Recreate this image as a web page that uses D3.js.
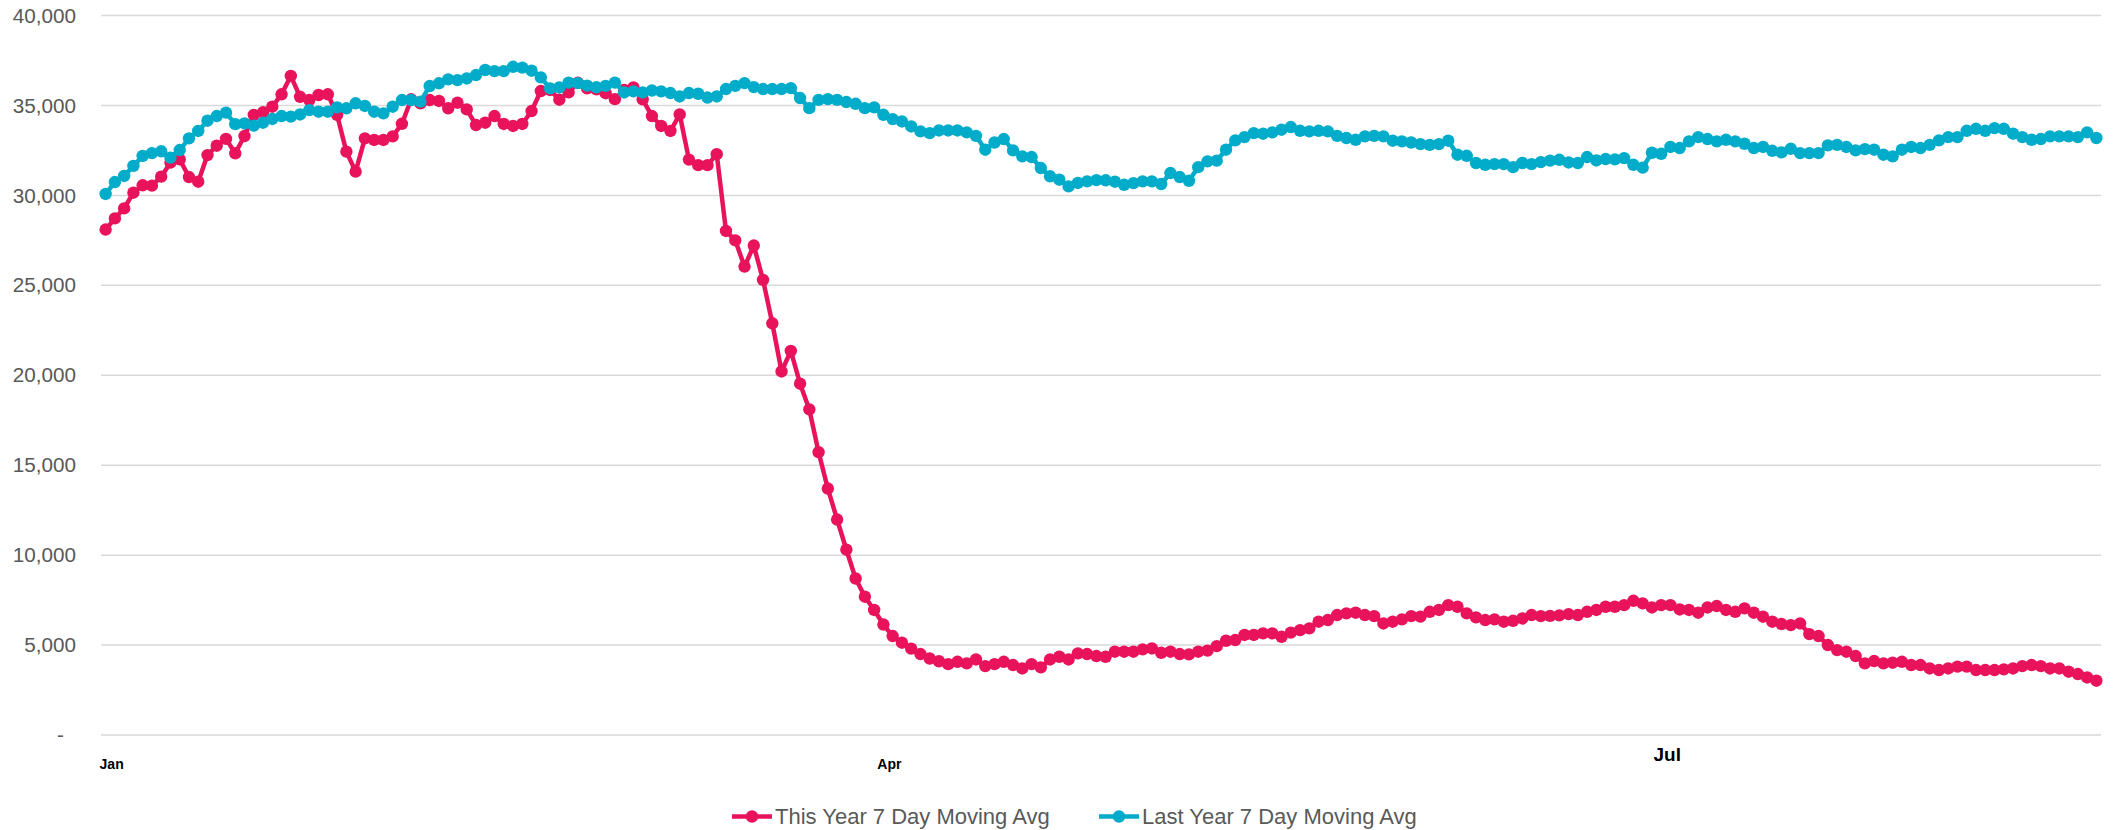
<!DOCTYPE html>
<html><head><meta charset="utf-8">
<script src="https://cdn.jsdelivr.net/npm/d3@7"></script>
<style>
html,body{margin:0;padding:0;background:#fff;}
svg{display:block;font-family:"Liberation Sans",Arial,sans-serif;}
</style></head>
<body>
<svg id="chart" width="2114" height="830"></svg>
<script>
// ---- data ----
const seriesNames = ["This Year 7 Day Moving Avg", "Last Year 7 Day Moving Avg"];
const seriesColors = ["#E8135B", "#00ACCA"];

const thisYear = [
28100,28720,29280,30150,30560,30540,31040,31820,32000,31020,
30760,32240,32760,33140,32340,33300,34470,34620,34930,35620,
36640,35480,35300,35580,35620,34470,32430,31320,33170,33080,
33080,33280,33980,35340,35120,35300,35250,34840,35150,34780,
33910,34040,34410,33970,33860,33970,34690,35800,35860,35320,
35730,36260,35950,35900,35680,35350,35860,36000,35340,34410,
33860,33580,34500,31990,31680,31680,32290,28020,27500,26040,
27210,25300,22890,20210,21350,19530,18100,15720,13700,11980,
10300,8700,7690,6950,6140,5500,5130,4800,4500,4250,
4100,3940,4070,3980,4200,3830,3940,4070,3890,3700,
3940,3760,4200,4350,4200,4540,4500,4390,4350,4630,
4630,4630,4760,4810,4570,4630,4500,4480,4630,4690,
4940,5240,5280,5560,5560,5650,5650,5460,5690,5830,
5930,6300,6390,6670,6760,6800,6670,6610,6200,6300,
6430,6610,6580,6850,6950,7220,7130,6760,6540,6390,
6430,6300,6350,6480,6670,6610,6620,6650,6720,6670,
6850,6950,7130,7130,7220,7460,7320,7090,7220,7220,
6980,6950,6800,7090,7170,6950,6850,7040,6800,6575,
6300,6170,6110,6200,5610,5500,5000,4720,4630,4390,
3980,4110,3980,4020,4070,3890,3890,3700,3610,3700,
3800,3800,3610,3610,3610,3650,3700,3830,3890,3830,
3700,3700,3520,3390,3200,3020
];

const lastYear = [
30080,30740,31080,31640,32190,32350,32450,32100,32520,33170,
33580,34150,34410,34600,33960,34000,33880,34040,34250,34410,
34380,34500,34740,34650,34650,34890,34840,35120,34970,34650,
34560,34930,35300,35300,35210,36080,36230,36450,36410,36500,
36690,36970,36910,36910,37150,37100,36930,36560,35950,36000,
36270,36240,36100,36010,36090,36270,35720,35780,35720,35830,
35780,35690,35500,35690,35650,35440,35500,35910,36090,36240,
36020,35910,35910,35910,35960,35410,34850,35310,35350,35310,
35190,35090,34850,34890,34480,34240,34110,33830,33560,33460,
33610,33610,33610,33500,33310,32540,32940,33130,32500,32170,
32130,31520,31060,30870,30500,30690,30780,30850,30840,30760,
30590,30680,30780,30780,30630,31240,31020,30810,31570,31890,
31930,32540,33060,33240,33460,33430,33500,33650,33800,33590,
33560,33590,33560,33310,33190,33090,33280,33310,33280,33040,
33000,32940,32850,32810,32850,33040,32260,32200,31800,31700,
31740,31740,31570,31800,31740,31850,31930,31980,31830,31800,
32130,31940,32020,32000,32070,31700,31540,32370,32310,32690,
32630,33000,33240,33130,33000,33090,33000,32870,32630,32690,
32480,32390,32590,32350,32350,32350,32780,32810,32690,32500,
32570,32540,32260,32170,32540,32690,32630,32810,33060,33240,
33240,33590,33700,33590,33740,33700,33430,33240,33090,33130,
33280,33280,33280,33240,33500,33190
];

const xTickLabels = ["Jan", "Apr", "Jul"];
const xTickIndex = [0, 84, 168];
const yTicks = [0, 5000, 10000, 15000, 20000, 25000, 30000, 35000, 40000];

// ---- layout ----
const svg = d3.select("#chart");
const plotLeft = 101, plotRight = 2101, plotTop = 15.5, plotBottom = 735;
const n = thisYear.length;

const x = d3.scaleLinear().domain([-0.5, n - 0.5]).range([plotLeft, plotRight]);
const y = d3.scaleLinear().domain([0, 40000]).range([plotBottom, plotTop]);

// gridlines
svg.append("g").selectAll("line").data(yTicks).join("line")
  .attr("x1", plotLeft).attr("x2", plotRight)
  .attr("y1", d => y(d)).attr("y2", d => y(d))
  .attr("stroke", "#d9d9d9").attr("stroke-width", 1.5);

// y axis labels
const fmt = d3.format(",");
const yAxis = d3.axisLeft(y).tickValues(yTicks).tickSize(0).tickPadding(0)
  .tickFormat(d => d === 0 ? "-" : fmt(d));
const yg = svg.append("g").attr("transform", `translate(76,0)`).call(yAxis);
yg.select(".domain").remove();
yg.selectAll("text")
  .attr("font-family", "'Liberation Sans', Arial, sans-serif")
  .attr("font-size", 20.7).attr("fill", "#595959")
  .attr("dx", d => d === 0 ? -12 : 0);

// x axis labels
svg.append("g").selectAll("text").data(xTickLabels).join("text")
  .attr("x", (d, i) => x(xTickIndex[i]) + 6)
  .attr("y", (d, i) => d === "Jul" ? 761 : 769)
  .attr("text-anchor", "middle")
  .attr("font-weight", "bold")
  .attr("font-size", d => d === "Jul" ? 19 : 14)
  .attr("fill", "#000")
  .text(d => d);

// series
const series = [thisYear, lastYear];
const line = d3.line().x((d, i) => x(i)).y(d => y(d));
series.forEach((data, s) => {
  const g = svg.append("g");
  g.append("path").datum(data)
    .attr("d", line).attr("fill", "none")
    .attr("stroke", seriesColors[s]).attr("stroke-width", 4.5)
    .attr("stroke-linejoin", "round").attr("stroke-linecap", "round");
  g.selectAll("circle").data(data).join("circle")
    .attr("cx", (d, i) => x(i)).attr("cy", d => y(d))
    .attr("r", 6.2).attr("fill", seriesColors[s]);
});

// legend
const legendY = 816.5;
const legendItems = [
  {name: seriesNames[0], color: seriesColors[0], x0: 732},
  {name: seriesNames[1], color: seriesColors[1], x0: 1099}
];
const lg = svg.append("g");
legendItems.forEach(it => {
  lg.append("line").attr("x1", it.x0).attr("x2", it.x0 + 40)
    .attr("y1", legendY).attr("y2", legendY)
    .attr("stroke", it.color).attr("stroke-width", 4.5);
  lg.append("circle").attr("cx", it.x0 + 20).attr("cy", legendY).attr("r", 6.2).attr("fill", it.color);
  lg.append("text").attr("x", it.x0 + 43).attr("y", legendY).attr("dy", "0.35em")
    .attr("font-size", 22).attr("fill", "#595959").text(it.name);
});
</script>
</body></html>
